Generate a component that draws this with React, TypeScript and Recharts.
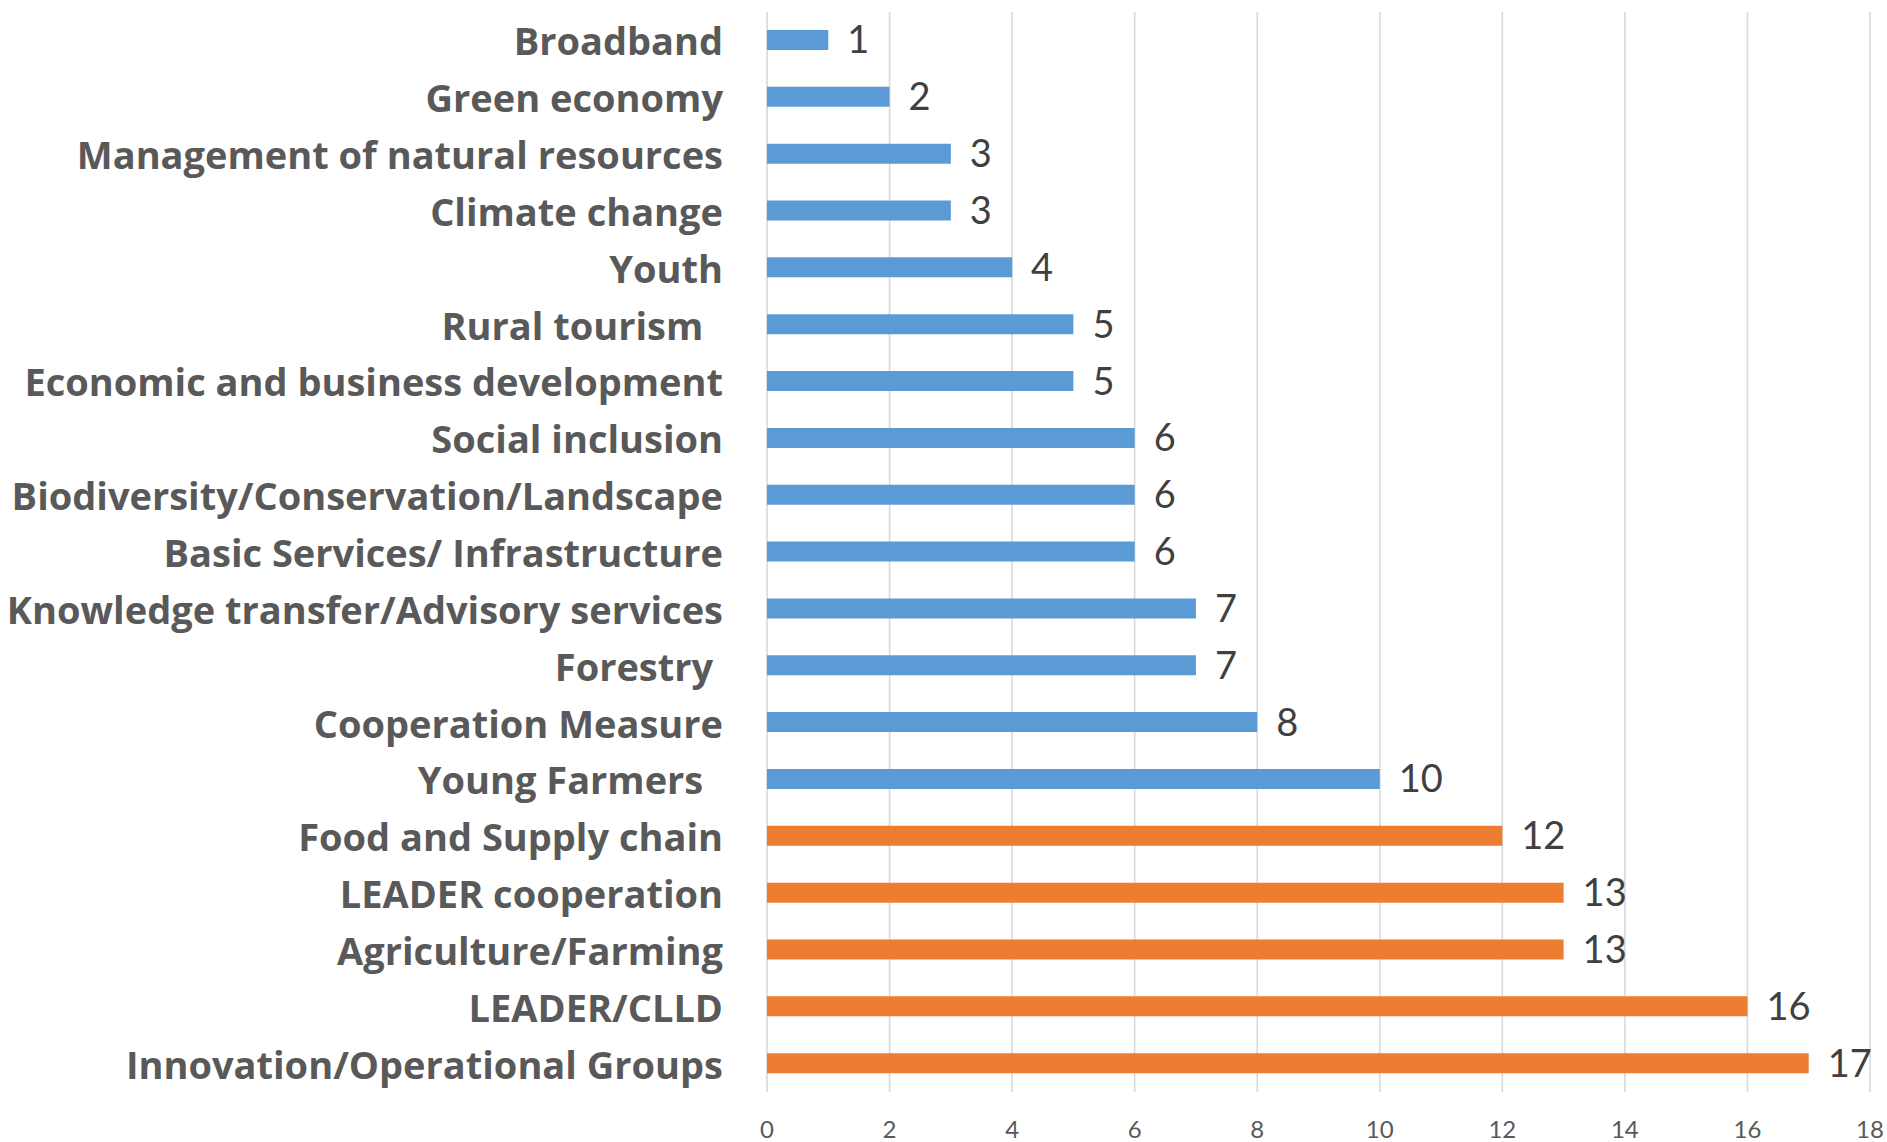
import { BarChart, Bar, XAxis, YAxis, CartesianGrid, Cell, LabelList } from "recharts";

const categories = [
  "Broadband",
  "Green economy",
  "Management of natural resources",
  "Climate change",
  "Youth",
  "Rural tourism  ",
  "Economic and business development",
  "Social inclusion",
  "Biodiversity/Conservation/Landscape",
  "Basic Services/ Infrastructure",
  "Knowledge transfer/Advisory services",
  "Forestry ",
  "Cooperation Measure",
  "Young Farmers  ",
  "Food and Supply chain",
  "LEADER cooperation",
  "Agriculture/Farming",
  "LEADER/CLLD",
  "Innovation/Operational Groups",
];

const counts = [1, 2, 3, 3, 4, 5, 5, 6, 6, 6, 7, 7, 8, 10, 12, 13, 13, 16, 17];

// the five most frequent themes are highlighted in orange
const highlighted = [
  "Food and Supply chain",
  "LEADER cooperation",
  "Agriculture/Farming",
  "LEADER/CLLD",
  "Innovation/Operational Groups",
];

const xTicks = [0, 2, 4, 6, 8, 10, 12, 14, 16, 18];

const data = categories.map((name, i) => ({ name, count: counts[i] }));

const FONT = "Lato, 'Open Sans', sans-serif";

const CategoryTick = ({ x, y, payload }: any) => (
  <text
    x={x}
    y={y}
    textAnchor="end"
    dominantBaseline="central"
    fontFamily="'Open Sans', Lato, sans-serif"
    fontWeight={700}
    fontSize={38}
    fill="#595959"
    style={{ whiteSpace: "pre" }}
    xmlSpace="preserve"
  >
    {payload.value}
  </text>
);

const ValueTick = ({ x, y, payload }: any) => (
  <text
    x={x}
    y={y + 36}
    textAnchor="middle"
    dominantBaseline="central"
    fontFamily={FONT}
    fontSize={24}
    fill="#595959"
  >
    {payload.value}
  </text>
);

export default function App() {
  return (
    <div style={{ position: "absolute", left: 0, top: 0, background: "#fff" }}>
      <BarChart
        width={1887}
        height={1142}
        data={data}
        layout="vertical"
        margin={{ top: 12, right: 17, left: 0, bottom: 0 }}
        barSize={20}
      >
        <CartesianGrid
          vertical={true}
          horizontal={false}
          stroke="#d9d9d9"
          strokeWidth={1.6}
        />
        <XAxis
          type="number"
          domain={[0, 18]}
          ticks={xTicks}
          height={50}
          axisLine={false}
          tickLine={false}
          tickSize={0}
          tickMargin={0}
          tick={<ValueTick />}
          interval={0}
        />
        <YAxis
          type="category"
          dataKey="name"
          width={767}
          axisLine={false}
          tickLine={false}
          tickSize={0}
          tickMargin={44}
          tick={<CategoryTick />}
          interval={0}
        />
        <Bar dataKey="count" isAnimationActive={false}>
          {data.map((d) => (
            <Cell
              key={d.name}
              fill={highlighted.includes(d.name) ? "#ED7D31" : "#5B9BD5"}
            />
          ))}
          <LabelList
            dataKey="count"
            position="right"
            offset={19}
            fill="#404040"
            fontSize={38}
            fontFamily={FONT}
          />
        </Bar>
      </BarChart>
    </div>
  );
}
